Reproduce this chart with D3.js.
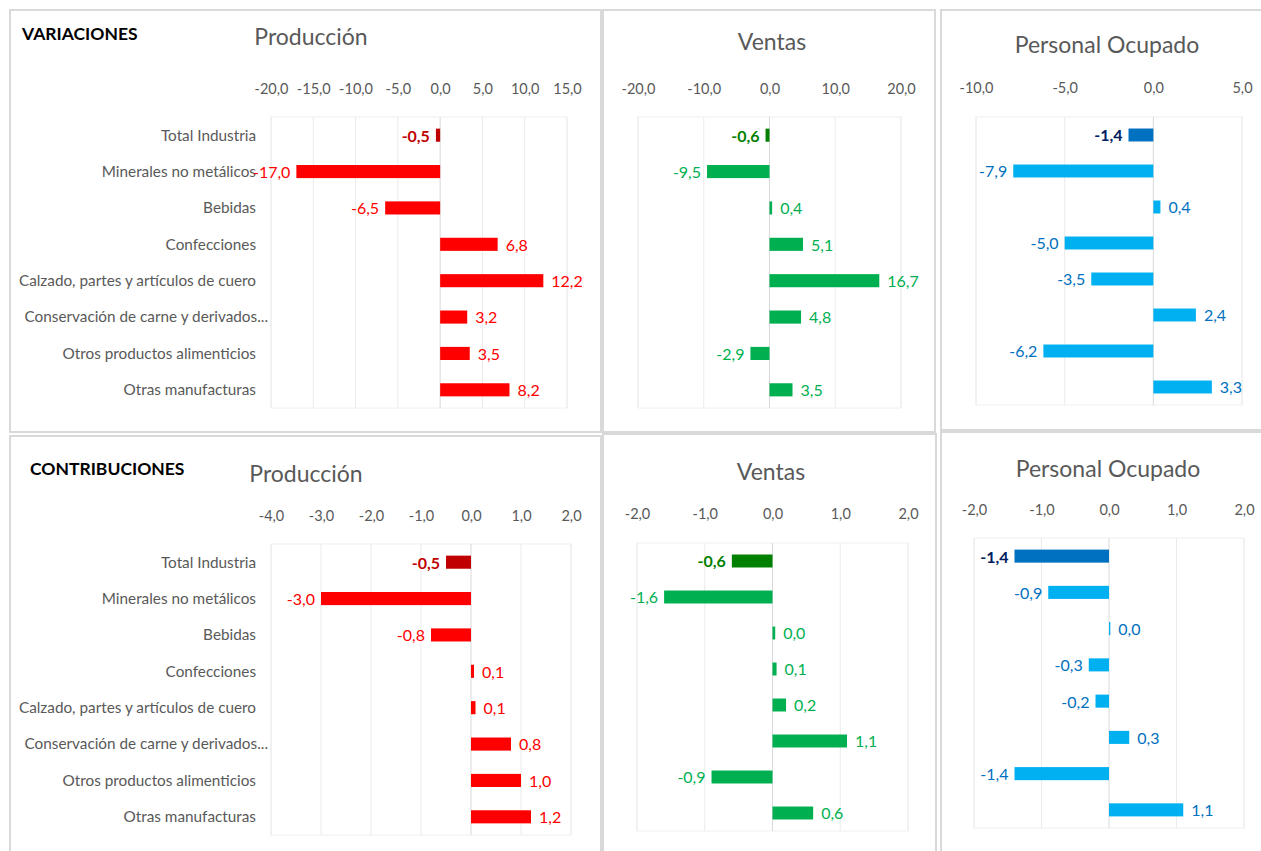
<!DOCTYPE html>
<html>
<head>
  <meta charset="UTF-8">
  <style>
    body { margin: 0; background: #fff; }
    svg { display: block; font-family: Lato, "Liberation Sans", sans-serif; }
  </style>
</head>
<body>
<svg></svg>
<script src="https://d3js.org/d3.v7.min.js"></script>

<script>

let width = 1261, height = 851;

let svg = d3.select("svg")
    .attr("width", width)
    .attr("height", height)
    .attr("viewBox", "0 0 " + width + " " + height)

// data
const categories = ["Total Industria", "Minerales no metálicos", "Bebidas", "Confecciones",
    "Calzado, partes y artículos de cuero", "Conservación de carne y derivados...",
    "Otros productos alimenticios", "Otras manufacturas"];

const varProduccion = [-0.5, -17.0, -6.5, 6.8, 12.2, 3.2, 3.5, 8.2];
const varVentas = [-0.6, -9.5, 0.4, 5.1, 16.7, 4.8, -2.9, 3.5];
const varPersonal = [-1.4, -7.9, 0.4, -5.0, -3.5, 2.4, -6.2, 3.3];

const conProduccion = [-0.5, -3.0, -0.8, 0.06, 0.09, 0.8, 1.0, 1.2];
const conVentas = [-0.6, -1.6, 0.04, 0.06, 0.2, 1.1, -0.9, 0.6];
const conPersonal = [-1.4, -0.9, 0.02, -0.3, -0.2, 0.3, -1.4, 1.1];

const varTicks = { prod: [-20, -15, -10, -5, 0, 5, 10, 15], ventas: [-20, -10, 0, 10, 20], pers: [-10, -5, 0, 5] };
const conTicks = { prod: [-4, -3, -2, -1, 0, 1, 2], ventas: [-2, -1, 0, 1, 2], pers: [-2, -1, 0, 1, 2] };

// colours per indicator
const red = { bar: "#ff0000", total: "#c00000", label: "#ff0000", totalLabel: "#c00000" };
const green = { bar: "#00b050", total: "#008000", label: "#00b050", totalLabel: "#008000" };
const blue = { bar: "#00b0f0", total: "#0070c0", label: "#0070c0", totalLabel: "#002060" };

const fmt = v => d3.format(".1f")(v).replace("−", "-").replace(".", ",");

const panels = [
  { values: varProduccion, ticks: varTicks.prod, title: "Producción", section: "VARIACIONES", col: red,
    frame: [10, 10, 601, 432], plot: [271, 117, 567, 408], titleX: 311, titleY: 45, tickY: 98, sectionX: 22, sectionY: 40, cats: true },
  { values: varVentas, ticks: varTicks.ventas, title: "Ventas", col: green,
    frame: [603, 10, 935, 432], plot: [638, 117, 901, 408], titleX: 772, titleY: 50, tickY: 98 },
  { values: varPersonal, ticks: varTicks.pers, title: "Personal Ocupado", col: blue,
    frame: [941, 10, 1275, 430], plot: [976, 117, 1242, 405], titleX: 1107, titleY: 53, tickY: 97 },
  { values: conProduccion, ticks: conTicks.prod, title: "Producción", section: "CONTRIBUCIONES", col: red,
    frame: [10, 436, 601, 870], plot: [271, 544, 571, 835], titleX: 306, titleY: 482, tickY: 525, sectionX: 30, sectionY: 475, cats: true },
  { values: conVentas, ticks: conTicks.ventas, title: "Ventas", col: green,
    frame: [603, 434, 936, 870], plot: [637, 543, 908, 831], titleX: 771, titleY: 480, tickY: 523 },
  { values: conPersonal, ticks: conTicks.pers, title: "Personal Ocupado", col: blue,
    frame: [941, 432, 1275, 870], plot: [974, 538, 1244, 828], titleX: 1108, titleY: 477, tickY: 519 }
];

panels.forEach(function(p) {
    let g = svg.append("g");

    // outer frame
    g.append("rect")
        .attr("x", p.frame[0]).attr("y", p.frame[1])
        .attr("width", p.frame[2] - p.frame[0]).attr("height", p.frame[3] - p.frame[1])
        .style("fill", "#fff").style("stroke", "#d9d9d9").style("stroke-width", 2);

    let x = d3.scaleLinear()
        .domain([p.ticks[0], p.ticks[p.ticks.length - 1]])
        .range([p.plot[0], p.plot[2]]);

    let y = d3.scaleBand()
        .domain(categories)
        .range([p.plot[1], p.plot[3]])
        .paddingInner(0.64)
        .paddingOuter(0.32);

    // plot area + gridlines
    g.append("rect")
        .attr("x", p.plot[0]).attr("y", p.plot[1])
        .attr("width", p.plot[2] - p.plot[0]).attr("height", p.plot[3] - p.plot[1])
        .style("fill", "none").style("stroke", "#f0f0f0");

    g.selectAll(".grid")
        .data(p.ticks)
        .enter()
        .append("line")
        .attr("x1", d => x(d)).attr("x2", d => x(d))
        .attr("y1", p.plot[1]).attr("y2", p.plot[3])
        .style("stroke", d => d == 0 ? "#d9d9d9" : "#ebebeb");

    // top axis, labels only
    let axis = g.append("g")
        .attr("transform", "translate(0," + (p.tickY - 4) + ")")
        .call(d3.axisTop(x).tickValues(p.ticks).tickFormat(fmt).tickSize(0).tickPadding(0));
    axis.select(".domain").remove();
    axis.selectAll("text")
        .style("font-family", "Lato, 'Liberation Sans', sans-serif")
        .style("font-size", "14.5px")
        .style("fill", "#595959");

    // titles
    g.append("text")
        .attr("x", p.titleX).attr("y", p.titleY)
        .attr("text-anchor", "middle")
        .style("font-size", "23px")
        .style("fill", "#595959")
        .text(p.title);

    if (p.section) {
        g.append("text")
            .attr("x", p.sectionX).attr("y", p.sectionY)
            .style("font-size", "17.5px")
            .style("font-weight", "bold")
            .style("fill", "#000")
            .text(p.section);
    }

    if (p.cats) {
        g.selectAll(".cat")
            .data(categories)
            .enter()
            .append("text")
            .attr("x", (d, i) => i == 5 ? 268 : 256)
            .attr("y", d => y(d) + y.bandwidth() / 2)
            .attr("dy", "0.35em")
            .attr("text-anchor", "end")
            .style("font-size", "15.3px")
            .style("fill", "#595959")
            .text(d => d);
    }

    // bars
    g.selectAll(".bar")
        .data(p.values)
        .enter()
        .append("rect")
        .attr("x", d => x(Math.min(0, d)))
        .attr("y", (d, i) => y(categories[i]))
        .attr("width", d => Math.abs(x(d) - x(0)))
        .attr("height", y.bandwidth())
        .style("fill", (d, i) => i == 0 ? p.col.total : p.col.bar);

    // data labels
    g.selectAll(".lbl")
        .data(p.values)
        .enter()
        .append("text")
        .attr("x", d => d < 0 ? x(d) - 6 : x(d) + 8)
        .attr("y", (d, i) => y(categories[i]) + y.bandwidth() / 2)
        .attr("dy", "0.4em")
        .attr("text-anchor", d => d < 0 ? "end" : "start")
        .style("font-size", "16px")
        .style("font-weight", (d, i) => i == 0 ? "bold" : "normal")
        .style("fill", (d, i) => i == 0 ? p.col.totalLabel : p.col.label)
        .text(d => fmt(d));
});

</script>

</body>
</html>
